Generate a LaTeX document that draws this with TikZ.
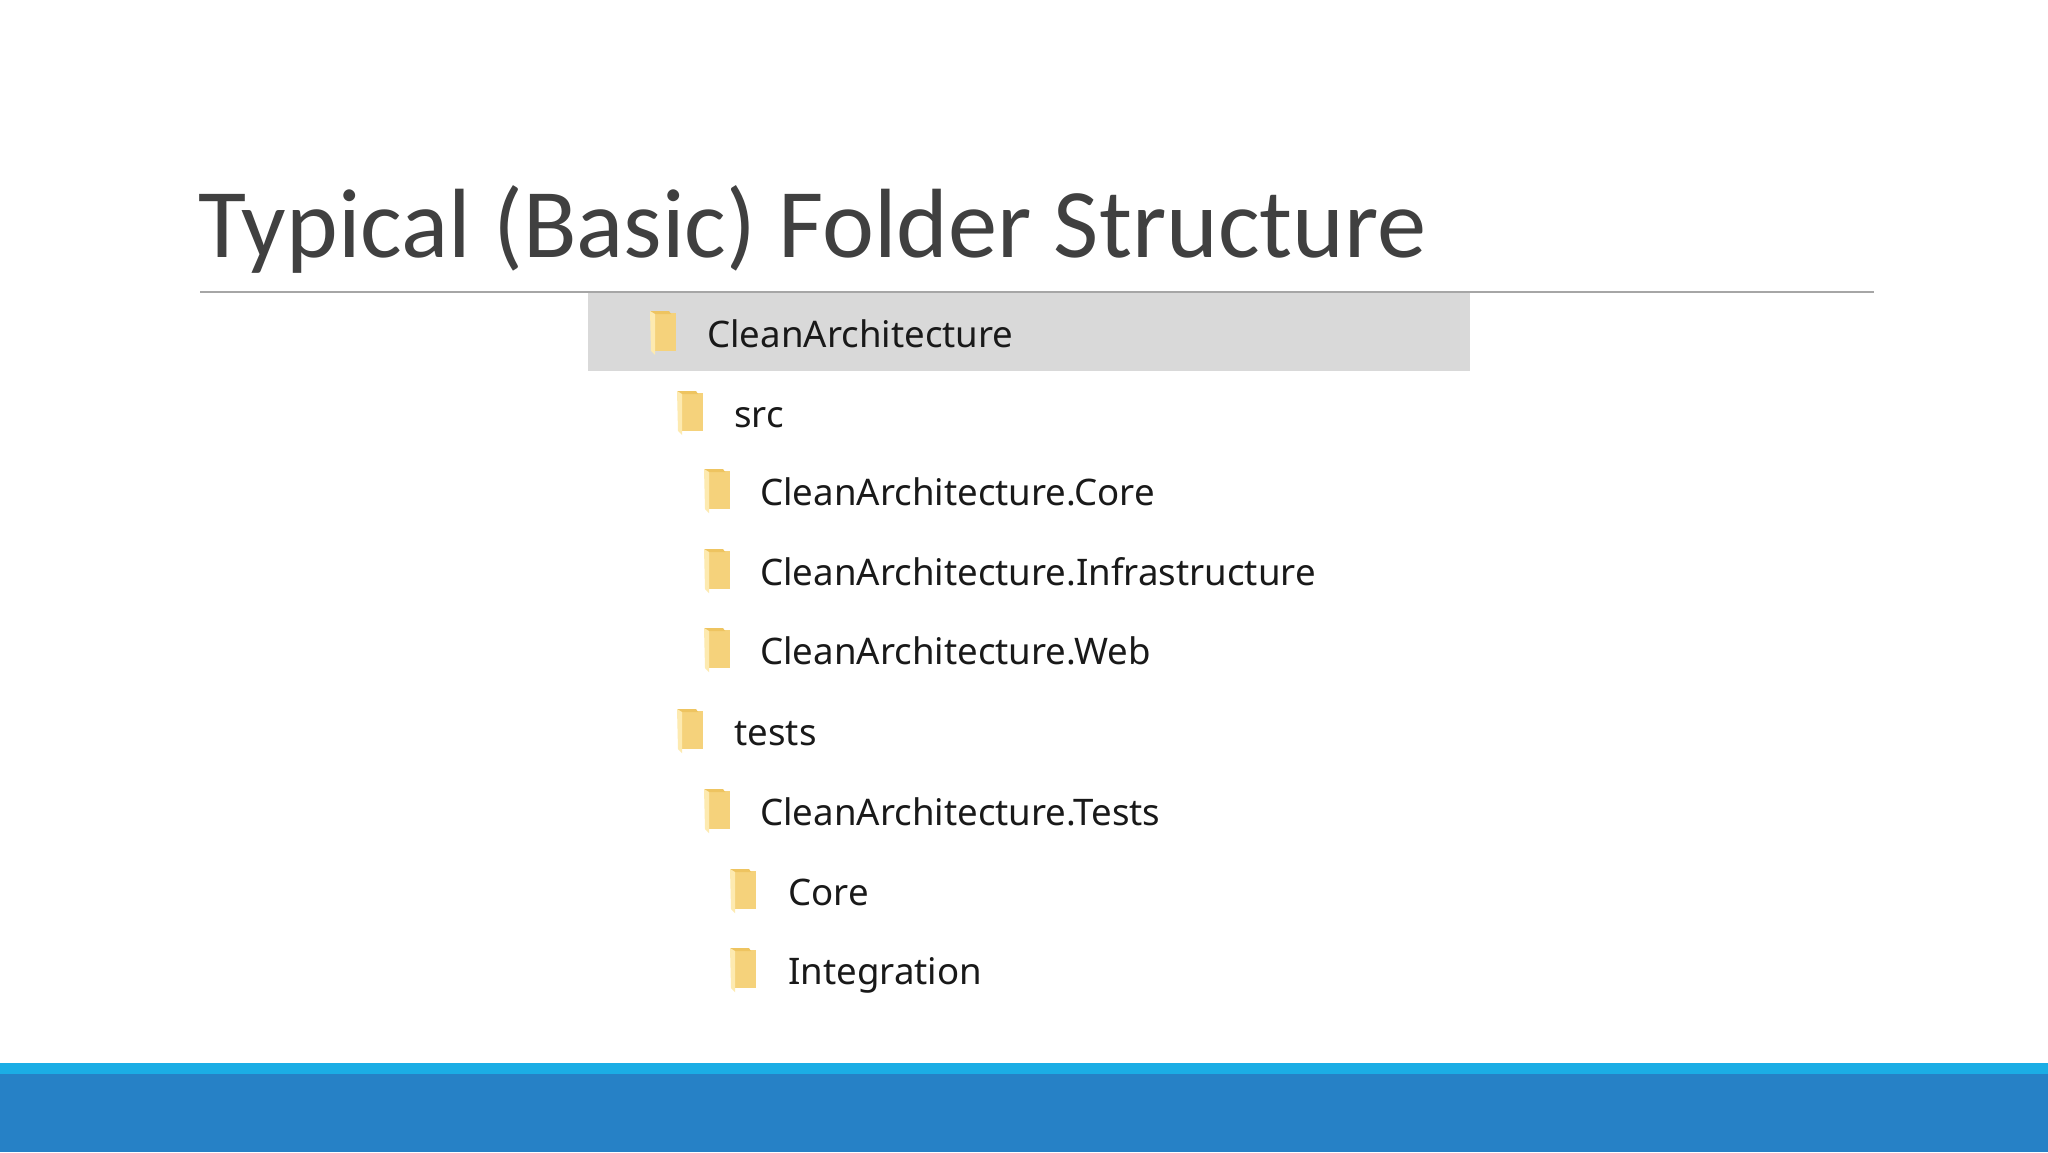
\documentclass[tikz,border=0pt]{standalone}
\usepackage{fontspec}
\setmainfont{Carlito}
\newfontfamily\explorerfont{Noto Sans}
\definecolor{titlegray}{HTML}{404040}
\definecolor{rulegray}{HTML}{A6A6A6}
\definecolor{selgray}{HTML}{D9D9D9}
\definecolor{barlight}{HTML}{1BADE5}
\definecolor{bardark}{HTML}{2681C6}
\definecolor{folderbody}{HTML}{F5D27B}
\definecolor{foldertab}{HTML}{EEC460}
\definecolor{folderflap}{HTML}{FDEAB0}
% folder icon, top left corner at (#1,#2), pixel units
\def\foldericon(#1,#2){%
  \fill[folderbody] (#1+4,#2+2) rectangle (#1+26,#2+40);
  \fill[foldertab] (#1,#2) -- (#1+19,#2) -- (#1+21,#2+3) -- (#1+4,#2+3) -- cycle;
  \fill[folderflap] (#1,#2) -- (#1+5,#2+3) -- (#1+5,#2+44) -- (#1+1,#2+40) -- cycle;}
\tikzset{
  entry/.style={anchor=base west, inner sep=0pt, font=\explorerfont\fontsize{18.3}{22}\selectfont, text=black!90}
}
\begin{document}
\begin{tikzpicture}[x=0.5pt, y=-0.5pt]
			%%%%% PAGE %%%%%
			\useasboundingbox (0,0) rectangle (2048,1152);
			\fill[white] (0,0) rectangle (2048,1152);
			
			\node[anchor=base west, inner sep=0pt, text=titlegray, font=\fontsize{49.2}{55}\selectfont] (title) at (198,257) {Typical (Basic) Folder Structure};
			
			\fill[selgray] (588,292) rectangle (1470,371);
			\draw[rulegray, line width=1pt] (200,292) -- (1874,292);
			
			%%%%% TREE %%%%%
			\foldericon(650,311)
			\node[entry] (root) at (707,347) {CleanArchitecture};
			\foldericon(677,391)
			\node[entry] (src) at (734,427) {src};
			\foldericon(704,469)
			\node[entry] (core) at (760,505) {CleanArchitecture.Core};
			\foldericon(704,549)
			\node[entry] (infra) at (760,585) {CleanArchitecture.Infrastructure};
			\foldericon(704,628)
			\node[entry] (web) at (760,664) {CleanArchitecture.Web};
			\foldericon(677,709)
			\node[entry] (tests) at (734,745) {tests};
			\foldericon(704,789)
			\node[entry] (testproj) at (760,825) {CleanArchitecture.Tests};
			\foldericon(730,869)
			\node[entry] (tcore) at (788,905) {Core};
			\foldericon(730,948)
			\node[entry] (tinteg) at (788,984) {Integration};
			
			%%%%% FOOTER %%%%%
			\fill[barlight] (0,1063) rectangle (2048,1074);
			\fill[bardark] (0,1074) rectangle (2048,1152);
\end{tikzpicture}
\end{document}
